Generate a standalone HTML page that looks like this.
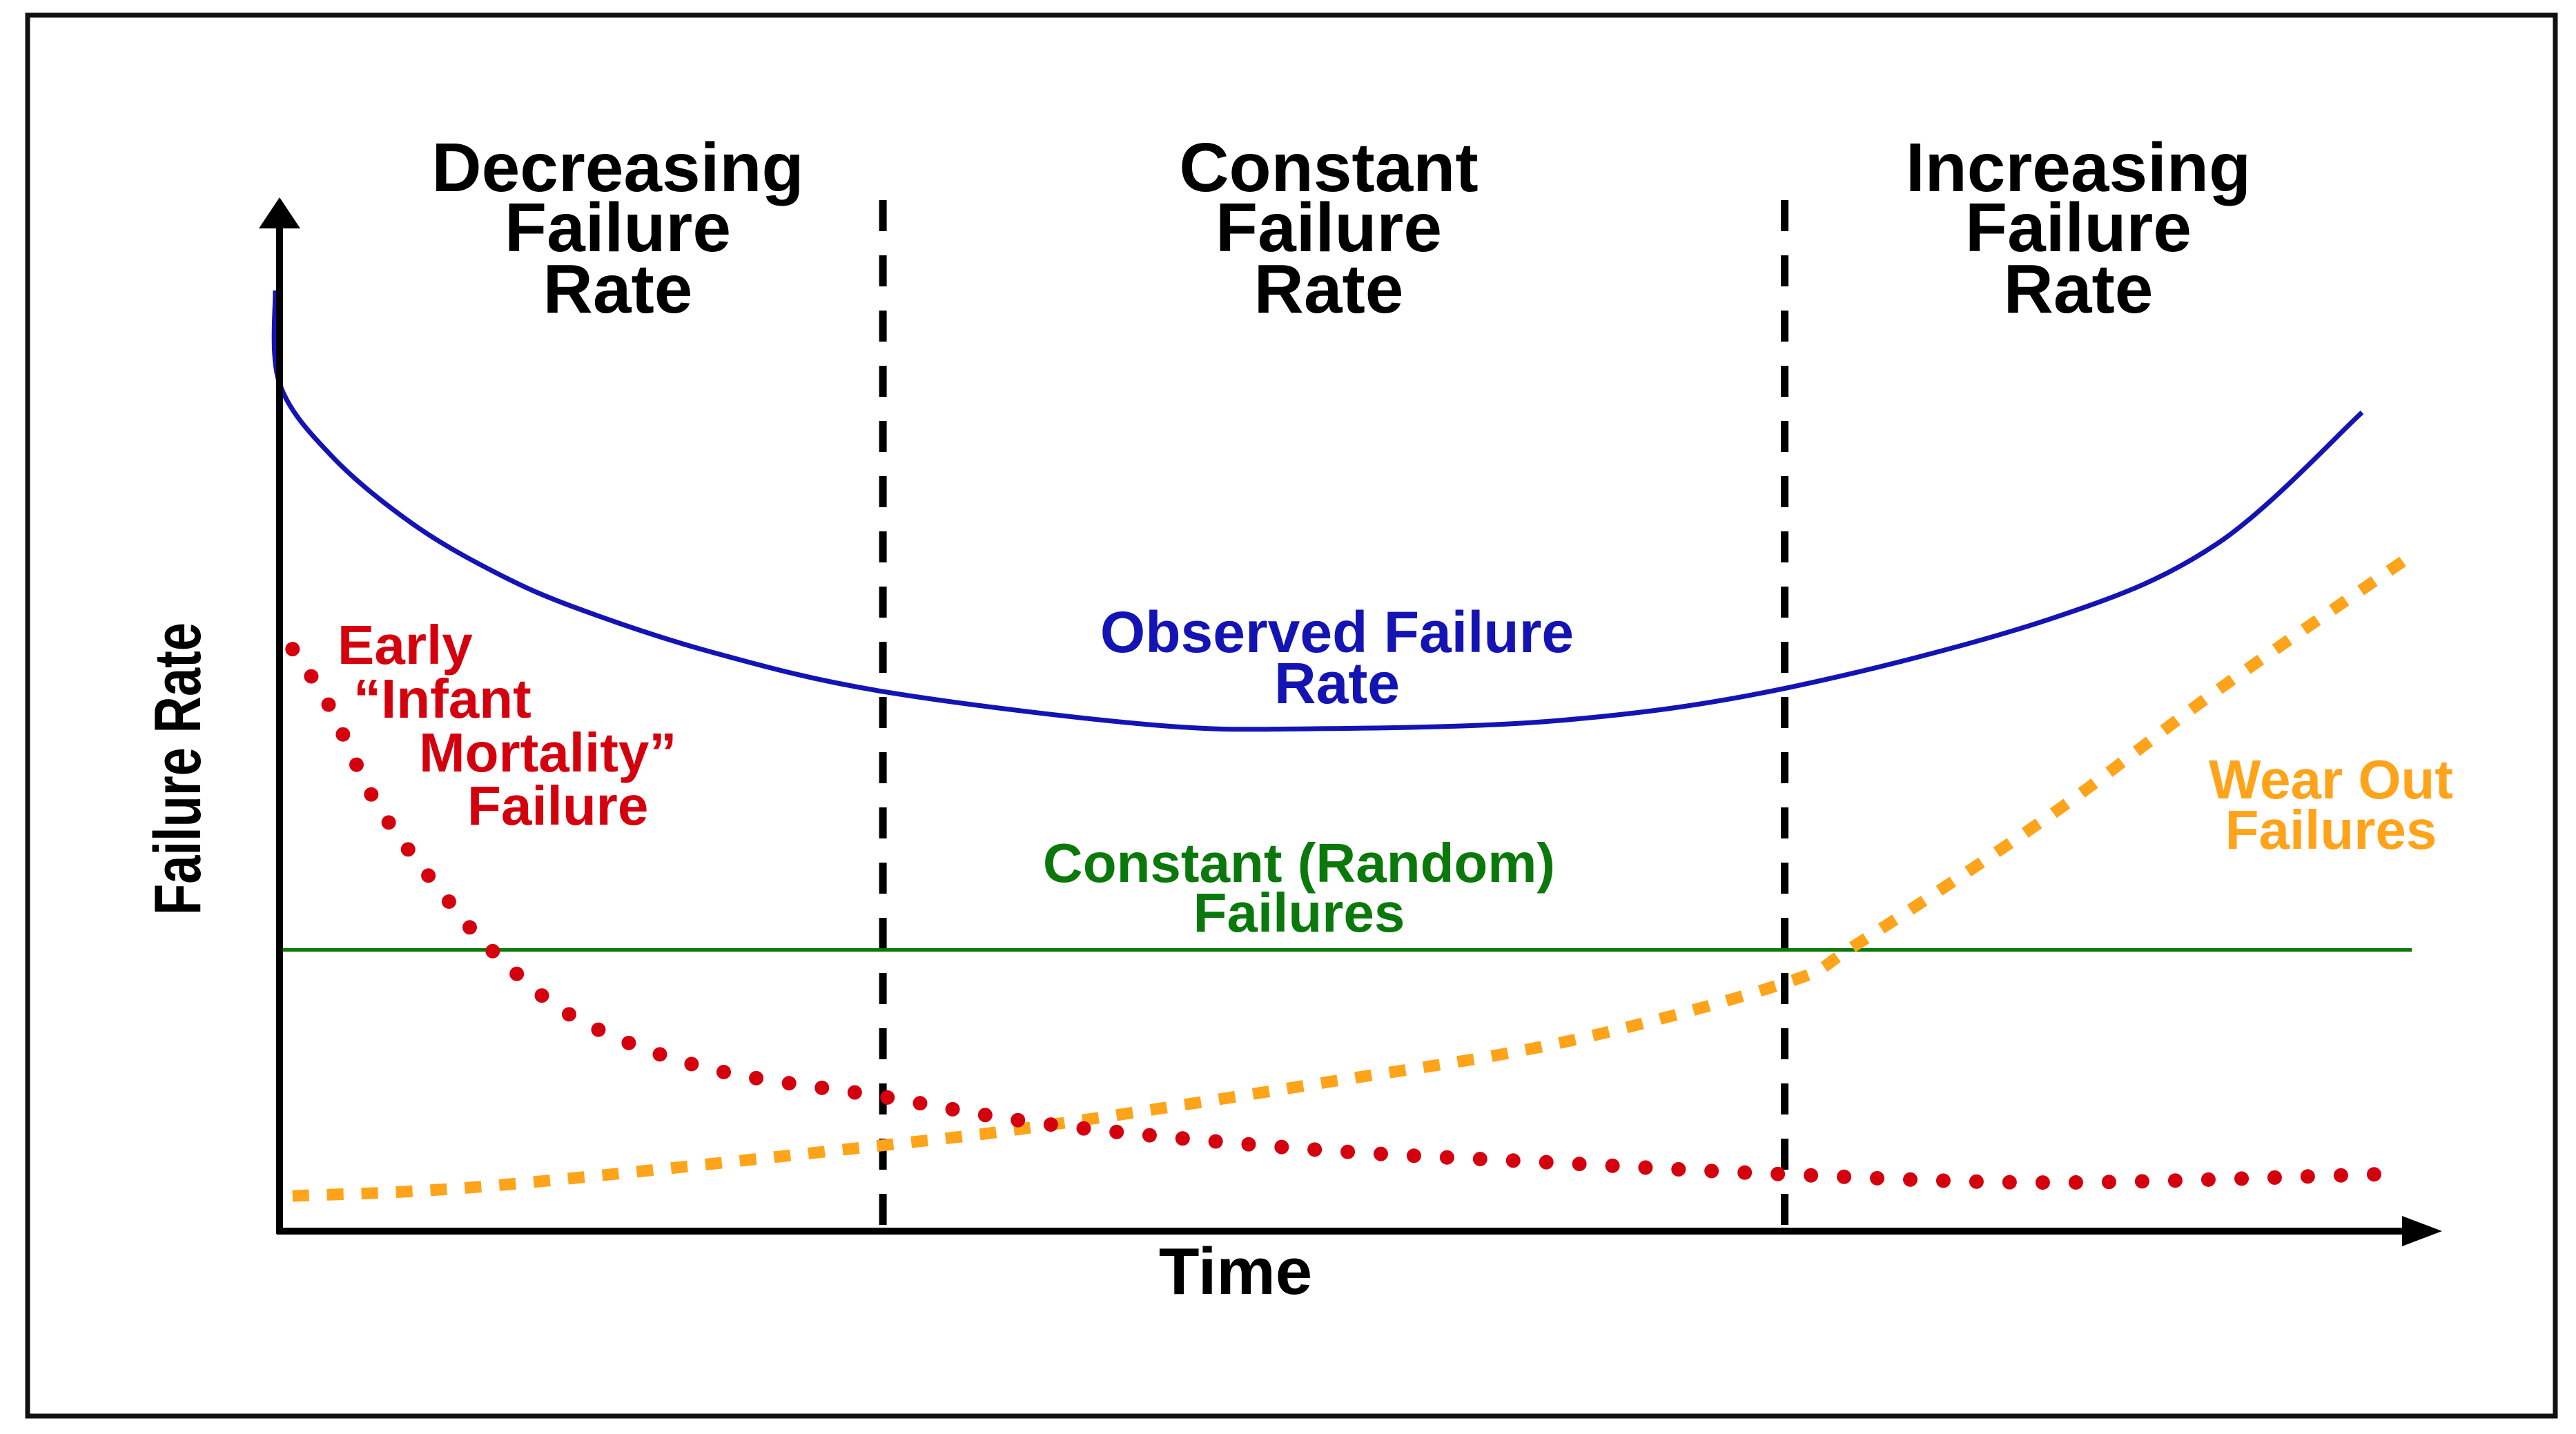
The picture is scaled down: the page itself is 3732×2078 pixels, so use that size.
<!DOCTYPE html>
<html><head><meta charset="utf-8"><style>
html,body{margin:0;padding:0;background:#fff;}
svg{display:block;}
text{font-family:"Liberation Sans",Arial,sans-serif;font-weight:bold;}
</style></head><body>
<svg id="chart" width="3732" height="2078" viewBox="0 0 3732 2078" xmlns="http://www.w3.org/2000/svg">
<rect x="40" y="22" width="3662" height="2030" fill="#fff" stroke="#111" stroke-width="7"/>
<g id="marks"></g>
<g font-size="100" fill="#000" text-anchor="middle">
<text x="895" y="277">Decreasing</text>
<text x="895" y="364">Failure</text>
<text x="895" y="453">Rate</text>
<text x="1925" y="277">Constant</text>
<text x="1925" y="364">Failure</text>
<text x="1925" y="453">Rate</text>
<text x="3011" y="277">Increasing</text>
<text x="3011" y="364">Failure</text>
<text x="3011" y="453">Rate</text>
</g>
<g font-size="84" fill="#1414b4" text-anchor="middle">
<text x="1937" y="945">Observed Failure</text>
<text x="1937" y="1019">Rate</text>
</g>
<g font-size="80" fill="#d4000e">
<text x="489" y="962">Early</text>
<text x="512" y="1040">“Infant</text>
<text x="607" y="1118">Mortality”</text>
<text x="677" y="1195">Failure</text>
</g>
<g font-size="80" fill="#0a780a" text-anchor="middle">
<text x="1882" y="1278">Constant (Random)</text>
<text x="1882" y="1350">Failures</text>
</g>
<g font-size="80" fill="#ffa41a" text-anchor="middle">
<text x="3377" y="1157">Wear Out</text>
<text x="3377" y="1230">Failures</text>
</g>
<text x="1790" y="1875" font-size="96" text-anchor="middle">Time</text>
<text transform="translate(290,1114) rotate(-90)" font-size="96" text-anchor="middle" textLength="424" lengthAdjust="spacingAndGlyphs">Failure Rate</text>
</svg>
<script>
// data (time 0-100, failure-rate 0-100)
const observedT = [-0.2, 0, 2.4, 6.1, 9.9, 13.7, 20, 27.9, 40.2, 47.8, 59.2, 69.6, 82, 89.6, 96.3];
const observedV = [91, 82, 75, 68.5, 63.8, 60.3, 56, 52.2, 49.0, 48.6, 49.4, 52.5, 59.3, 66.5, 79.2];
const infantT = [0.6, 2.3, 4.5, 7.6, 9.9, 13.7, 19.7, 27.9, 35.7, 47.8, 59.2, 69.6, 82, 97];
const infantV = [56.3, 50.8, 41.3, 32.5, 27, 20.6, 15.8, 13, 10.3, 7.9, 6.6, 5.5, 4.7, 5.5];
const wearT = [0.6, 9.9, 27.9, 35.7, 47.8, 59.2, 69.6, 72.9, 82, 89.6, 98.4];
const wearV = [3.4, 4.4, 8.3, 10.3, 14.2, 18.2, 24, 27.7, 40.4, 52.3, 65.1];
const randomLevel = [27.2];
const randomT = [0, 98.6];
const regionBounds = [27.9, 69.6];

const X0 = 405, X1 = 3538, Y0 = 1784, Y1 = 286;
const xs = t => X0 + t * (X1 - X0) / 100;
const ys = v => Y0 - v * (Y0 - Y1) / 100;
const NS = 'http://www.w3.org/2000/svg';
const g = document.getElementById('marks');

function smooth(T, V) {
  const p = T.map((t, i) => [xs(t), ys(V[i])]);
  let d = 'M' + p[0][0] + ',' + p[0][1];
  for (let i = 0; i < p.length - 1; i++) {
    const a = p[Math.max(i - 1, 0)], b = p[i], c = p[i + 1], e = p[Math.min(i + 2, p.length - 1)];
    const c1 = [b[0] + (c[0] - a[0]) / 6, b[1] + (c[1] - a[1]) / 6];
    const c2 = [c[0] - (e[0] - b[0]) / 6, c[1] - (e[1] - b[1]) / 6];
    d += 'C' + c1[0] + ',' + c1[1] + ' ' + c2[0] + ',' + c2[1] + ' ' + c[0] + ',' + c[1];
  }
  return d;
}
function mk(tag, attrs) {
  const el = document.createElementNS(NS, tag);
  for (const k in attrs) el.setAttribute(k, attrs[k]);
  g.appendChild(el);
  return el;
}

regionBounds.forEach((t, i) => {
  const el = mk('line', {x1: xs(t), x2: xs(t), y1: 290, y2: Y0, stroke: '#000', 'stroke-width': 11, 'stroke-dasharray': '45 35'});
  
  
});

const rl = mk('line', {x1: xs(randomT[0]), x2: xs(randomT[1]), y1: ys(randomLevel[0]), y2: ys(randomLevel[0]), stroke: '#0a780a', 'stroke-width': 5});



const wl = mk('path', {d: smooth(wearT, wearV), fill: 'none', stroke: '#ffa41a', 'stroke-width': 17, 'stroke-dasharray': '24 26'});



const il = mk('path', {d: smooth(infantT, infantV), fill: 'none', stroke: '#d4000e', 'stroke-width': 21, 'stroke-linecap': 'round', 'stroke-dasharray': '0 48'});



const ol = mk('path', {d: smooth(observedT, observedV), fill: 'none', stroke: '#1414b4', 'stroke-width': 7});



const ya = mk('line', {x1: X0, x2: X0, y1: Y0 + 4, y2: Y1 + 40, stroke: '#000', 'stroke-width': 10});


const yh = mk('polygon', {points: (X0 - 30) + ',' + (Y1 + 45) + ' ' + (X0 + 30) + ',' + (Y1 + 45) + ' ' + X0 + ',' + Y1, fill: '#000'});


const xa = mk('line', {x1: X0 - 4, x2: X1 - 50, y1: Y0, y2: Y0, stroke: '#000', 'stroke-width': 10});


const xh = mk('polygon', {points: (X1 - 58) + ',' + (Y0 - 22) + ' ' + (X1 - 58) + ',' + (Y0 + 22) + ' ' + X1 + ',' + Y0, fill: '#000'});


</script>
</body></html>
